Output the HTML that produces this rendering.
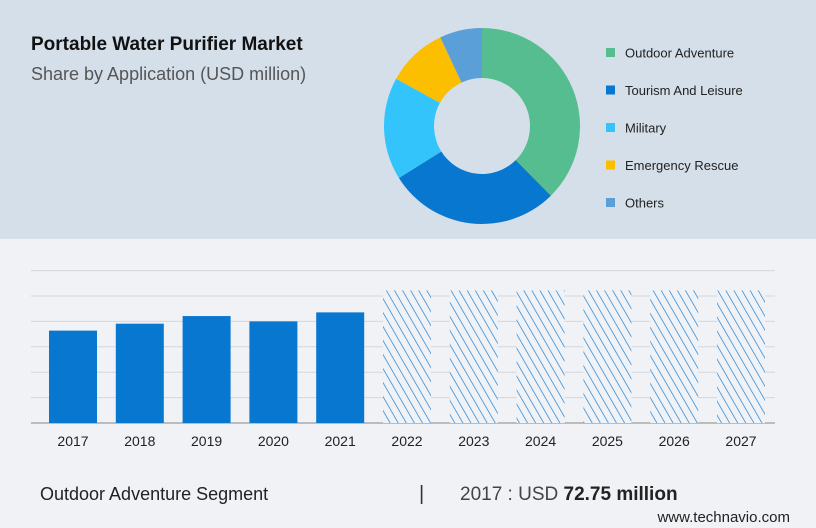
<!DOCTYPE html>
<html><head><meta charset="utf-8"><style>
html,body{margin:0;padding:0;width:816px;height:528px;overflow:hidden;background:#f1f2f5;font-family:"Liberation Sans",sans-serif}
svg{display:block}
</style></head><body>
<svg width="816" height="528" viewBox="0 0 816 528">
<defs>
<pattern id="hatch" patternUnits="userSpaceOnUse" width="7" height="7" patternTransform="rotate(-30)">
<rect width="7" height="7" fill="#f1f2f5"/>
<line x1="0" y1="0" x2="0" y2="7" stroke="#1a7fd4" stroke-width="1.4"/>
</pattern>
</defs>
<rect x="0" y="0" width="816" height="239" fill="#d5dfea"/>
<text x="31" y="50" font-size="19" font-weight="bold" fill="#111">Portable Water Purifier Market</text>
<text x="31" y="80" font-size="18" fill="#555">Share by Application (USD million)</text>
<g id="donut"></g>
<g id="legend"></g>
<g id="grid"></g>
<g id="bars"></g>
<g id="xlabels"></g>
<text x="40" y="500" font-size="18" fill="#222">Outdoor Adventure Segment</text>
<text x="419" y="500" font-size="20" fill="#333">|</text>
<text x="460" y="500" font-size="19" fill="#444">2017 : USD <tspan font-weight="bold" fill="#222">72.75 million</tspan></text>
<text x="790" y="522" font-size="15" fill="#222" text-anchor="end">www.technavio.com</text>
</svg>
<script>
const sliceNames=["Outdoor Adventure","Tourism And Leisure","Military","Emergency Rescue","Others"];
const sliceShares=[37.6,28.5,16.9,10.0,7.0];
const sliceColors=["#55bd8f","#0877d0","#33c4fb","#fcbf00","#5b9fd9"];
const years=["2017","2018","2019","2020","2021","2022","2023","2024","2025","2026","2027"];
const values=[72.75,78.2,84.2,80.0,87.1,104.4,104.4,104.4,104.4,104.4,104.4];
const forecastFrom=5;
const ns="http://www.w3.org/2000/svg";
function mk(t,a){const e=document.createElementNS(ns,t);for(const k in a)e.setAttribute(k,a[k]);return e;}
// donut
const cx=482,cy=126,R=98,r=48;
const total=sliceShares.reduce((a,b)=>a+b,0);
let acc=0;const dg=document.getElementById('donut');
function pt(a,rad){return [cx+rad*Math.sin(a),cy-rad*Math.cos(a)];}
sliceShares.forEach((v,i)=>{
 const a0=acc/total*2*Math.PI;acc+=v;const a1=acc/total*2*Math.PI;
 const lg=(a1-a0)>Math.PI?1:0;
 const p1=pt(a0,R),p2=pt(a1,R),p3=pt(a1,r),p4=pt(a0,r);
 const p=mk('path',{d:`M${p1}A${R},${R} 0 ${lg} 1 ${p2}L${p3}A${r},${r} 0 ${lg} 0 ${p4}Z`,fill:sliceColors[i]});
 
 
 dg.appendChild(p);
});
const lgG=document.getElementById('legend');
sliceNames.forEach((n,i)=>{
 const y=53+i*37.5;
 const g=mk('g',{});
 
 
 g.appendChild(mk('rect',{x:606,y:y-5,width:9,height:9,fill:sliceColors[i]}));
 const t=mk('text',{x:625,y:y+4.5,'font-size':13,fill:'#222'});t.textContent=n;g.appendChild(t);
 lgG.appendChild(g);
});
// bars
const base=423,pxPer=152.4/120,x0=49,pitch=66.8,bw=48;
function yS(v){return base-v*pxPer;}
const gg=document.getElementById('grid');
for(let k=0;k<=6;k++){
 const y=yS(k*20);
 const l=mk('line',{x1:31,x2:775,y1:y,y2:y,stroke:k==0?'#aaa':'#d4d6da','stroke-width':k==0?1.5:1});
 
 
 gg.appendChild(l);
}
const bg=document.getElementById('bars'),xl=document.getElementById('xlabels');
values.forEach((v,i)=>{
 const x=x0+i*pitch;
 const b=mk('rect',{x:x,y:yS(v),width:bw,height:base-yS(v),fill:i<forecastFrom?'#0877d0':'url(#hatch)'});
 
 
 bg.appendChild(b);
 const t=mk('text',{x:x+bw/2,y:446,'font-size':14,fill:'#222','text-anchor':'middle'});
 t.textContent=years[i];
 
 
 xl.appendChild(t);
});
</script>
</body></html>
